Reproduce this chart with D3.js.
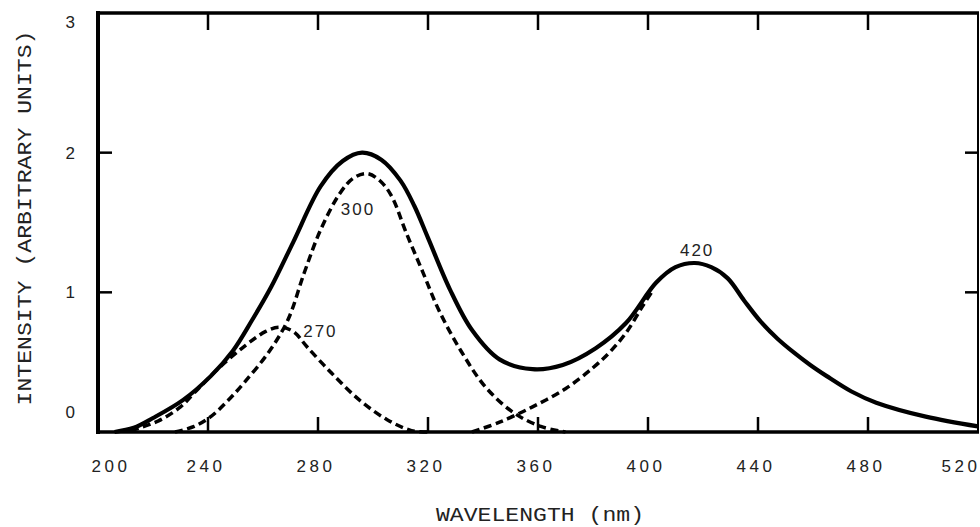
<!DOCTYPE html>
<meta charset="utf-8">
<style>
  html, body { margin: 0; padding: 0; background: #fff; }
  svg { display: block; }
  .tick-label { font-family: "Liberation Sans", Arial, sans-serif; font-size: 17px; fill: #222; letter-spacing: 3.5px; }
  .peak-label { font-family: "Liberation Sans", Arial, sans-serif; font-size: 17px; fill: #222; letter-spacing: 2px; }
  .axis-title { font-family: "Liberation Mono", "DejaVu Sans Mono", monospace; font-size: 20px; fill: #222; }
  .frame, .tick { stroke: #000; fill: none; }
  .total { fill: none; stroke: #000; stroke-width: 4.2px; stroke-linejoin: round; }
  .band { fill: none; stroke: #000; stroke-width: 3.5px; stroke-dasharray: 8,4.5; }
</style>
<body>
<svg id="chart" width="980" height="527"></svg>
</body>
<script src="https://cdn.jsdelivr.net/npm/d3@7"></script>
<script>

  // tick values
  var wavelengthTicks = [200, 240, 280, 320, 360, 400, 440, 480, 520];
  var intensityTicks = [0, 1, 2, 3];

  // measured spectrum (solid)
  var totalWl = [206, 213, 220, 231, 241, 249, 256, 263, 271, 281, 289, 296, 303, 310, 315, 320,
                 328, 336, 346, 358, 369, 381, 392, 403, 410, 417, 423, 429, 435, 441, 447, 453,
                 459, 465, 474, 483, 501, 520];
  var totalI  = [0, 0.03, 0.1, 0.23, 0.4, 0.58, 0.8, 1.04, 1.36, 1.76, 1.94, 2.0, 1.95, 1.8, 1.62, 1.39,
                 1.02, 0.73, 0.52, 0.45, 0.48, 0.6, 0.78, 1.07, 1.18, 1.21, 1.18, 1.1, 0.94, 0.79, 0.67, 0.57,
                 0.48, 0.4, 0.29, 0.21, 0.11, 0.04];

  // resolved bands (dashed)
  var band270Wl = [212, 222, 230, 235, 243, 253, 261, 266, 271, 276, 285, 295, 305, 314, 320];
  var band270I  = [0.01, 0.08, 0.18, 0.28, 0.44, 0.61, 0.72, 0.75, 0.72, 0.61, 0.42, 0.23, 0.09, 0.01, 0];

  var band300Wl = [228, 235, 241, 247, 253, 262, 269, 275, 281, 288, 293, 298, 303, 307, 312, 318,
                   324, 332, 341, 351, 361, 370];
  var band300I  = [0, 0.04, 0.11, 0.22, 0.35, 0.57, 0.8, 1.14, 1.45, 1.71, 1.82, 1.85, 1.79, 1.68, 1.43, 1.15,
                   0.87, 0.58, 0.32, 0.14, 0.04, 0];

  var band420Wl = [336, 346, 358, 370, 380, 386, 392, 398, 402];
  var band420I  = [0, 0.07, 0.18, 0.31, 0.46, 0.57, 0.71, 0.9, 1.02];

  // peak annotations (placed in data units)
  var peakNames = ["270", "300", "420"];
  var peakNameWl = [280.5, 294.2, 417.5];
  var peakNameI = [0.72, 1.6, 1.3];

  var svg = d3.select("#chart");
  var pL = 98, pR = 978, pT = 13, pB = 432;

  var x = d3.scaleLinear().domain([200, 520]).range([pL, pR]);
  var y = d3.scaleLinear().domain([0, 3]).range([pB, pT]);

  function zip(a, b) { return a.map(function (v, i) { return [v, b[i]]; }); }

  var line = d3.line()
      .x(function (d) { return x(d[0]); })
      .y(function (d) { return y(d[1]); })
      .curve(d3.curveCatmullRom);

  /* curves */
  [[band270Wl, band270I], [band300Wl, band300I], [band420Wl, band420I]].forEach(function (b) {
      svg.append("path").attr("class", "band").attr("d", line(zip(b[0], b[1])));
  });
  svg.append("path").attr("class", "total").attr("d", line(zip(totalWl, totalI)));

  /* frame */
  svg.append("line").attr("class", "frame").attr("x1", pL).attr("x2", pL)
      .attr("y1", pT - 2).attr("y2", pB + 2).style("stroke-width", 4);
  svg.append("line").attr("class", "frame").attr("x1", pL - 2).attr("x2", pR + 1)
      .attr("y1", pT).attr("y2", pT).style("stroke-width", 3.5);
  svg.append("line").attr("class", "frame").attr("x1", pR).attr("x2", pR)
      .attr("y1", pT).attr("y2", pB).style("stroke-width", 2);
  svg.append("line").attr("class", "frame").attr("x1", pL - 2).attr("x2", pR + 1)
      .attr("y1", pB).attr("y2", pB).style("stroke-width", 3.5);

  /* inner ticks */
  var innerX = wavelengthTicks.slice(1, -1);
  svg.selectAll(".xt-top").data(innerX).enter().append("line")
      .attr("class", "tick").style("stroke-width", 2.5)
      .attr("x1", d => x(d)).attr("x2", d => x(d)).attr("y1", pT).attr("y2", pT + 17);
  svg.selectAll(".xt-bot").data(innerX).enter().append("line")
      .attr("class", "tick").style("stroke-width", 2.5)
      .attr("x1", d => x(d)).attr("x2", d => x(d)).attr("y1", pB).attr("y2", pB - 15);
  var innerY = intensityTicks.slice(1, -1);
  svg.selectAll(".yt-l").data(innerY).enter().append("line")
      .attr("class", "tick").style("stroke-width", 2.5)
      .attr("x1", pL).attr("x2", pL + 14).attr("y1", d => y(d)).attr("y2", d => y(d));
  svg.selectAll(".yt-r").data(innerY).enter().append("line")
      .attr("class", "tick").style("stroke-width", 2.5)
      .attr("x1", pR).attr("x2", pR - 13).attr("y1", d => y(d)).attr("y2", d => y(d));

  /* tick labels */
  svg.selectAll(".xl").data(wavelengthTicks).enter().append("text")
      .attr("class", "tick-label")
      .attr("text-anchor", "middle")
      .attr("x", d => Math.min(Math.max(x(d) - 2, 111), 961))
      .attr("y", 472)
      .text(d => d);

  svg.selectAll(".yl").data(intensityTicks).enter().append("text")
      .attr("class", "tick-label")
      .attr("text-anchor", "middle")
      .attr("x", 72)
      .attr("y", d => Math.min(Math.max(y(d), 22), 412) + 6)
      .text(d => d);

  /* peak labels */
  svg.selectAll(".pl").data(peakNames).enter().append("text")
      .attr("class", "peak-label")
      .attr("text-anchor", "middle")
      .attr("x", (d, i) => x(peakNameWl[i]) + 1)
      .attr("y", (d, i) => y(peakNameI[i]) + 6)
      .text(d => d);

  /* axis titles */
  svg.append("text").attr("class", "axis-title")
      .attr("text-anchor", "middle")
      .attr("x", 540).attr("y", 521)
      .attr("textLength", 208).attr("lengthAdjust", "spacingAndGlyphs")
      .text("WAVELENGTH (nm)");

  svg.append("text").attr("class", "axis-title")
      .attr("text-anchor", "middle")
      .attr("transform", "translate(31,218) rotate(-90)")
      .attr("textLength", 375).attr("lengthAdjust", "spacingAndGlyphs")
      .text("INTENSITY (ARBITRARY UNITS)");

</script>
